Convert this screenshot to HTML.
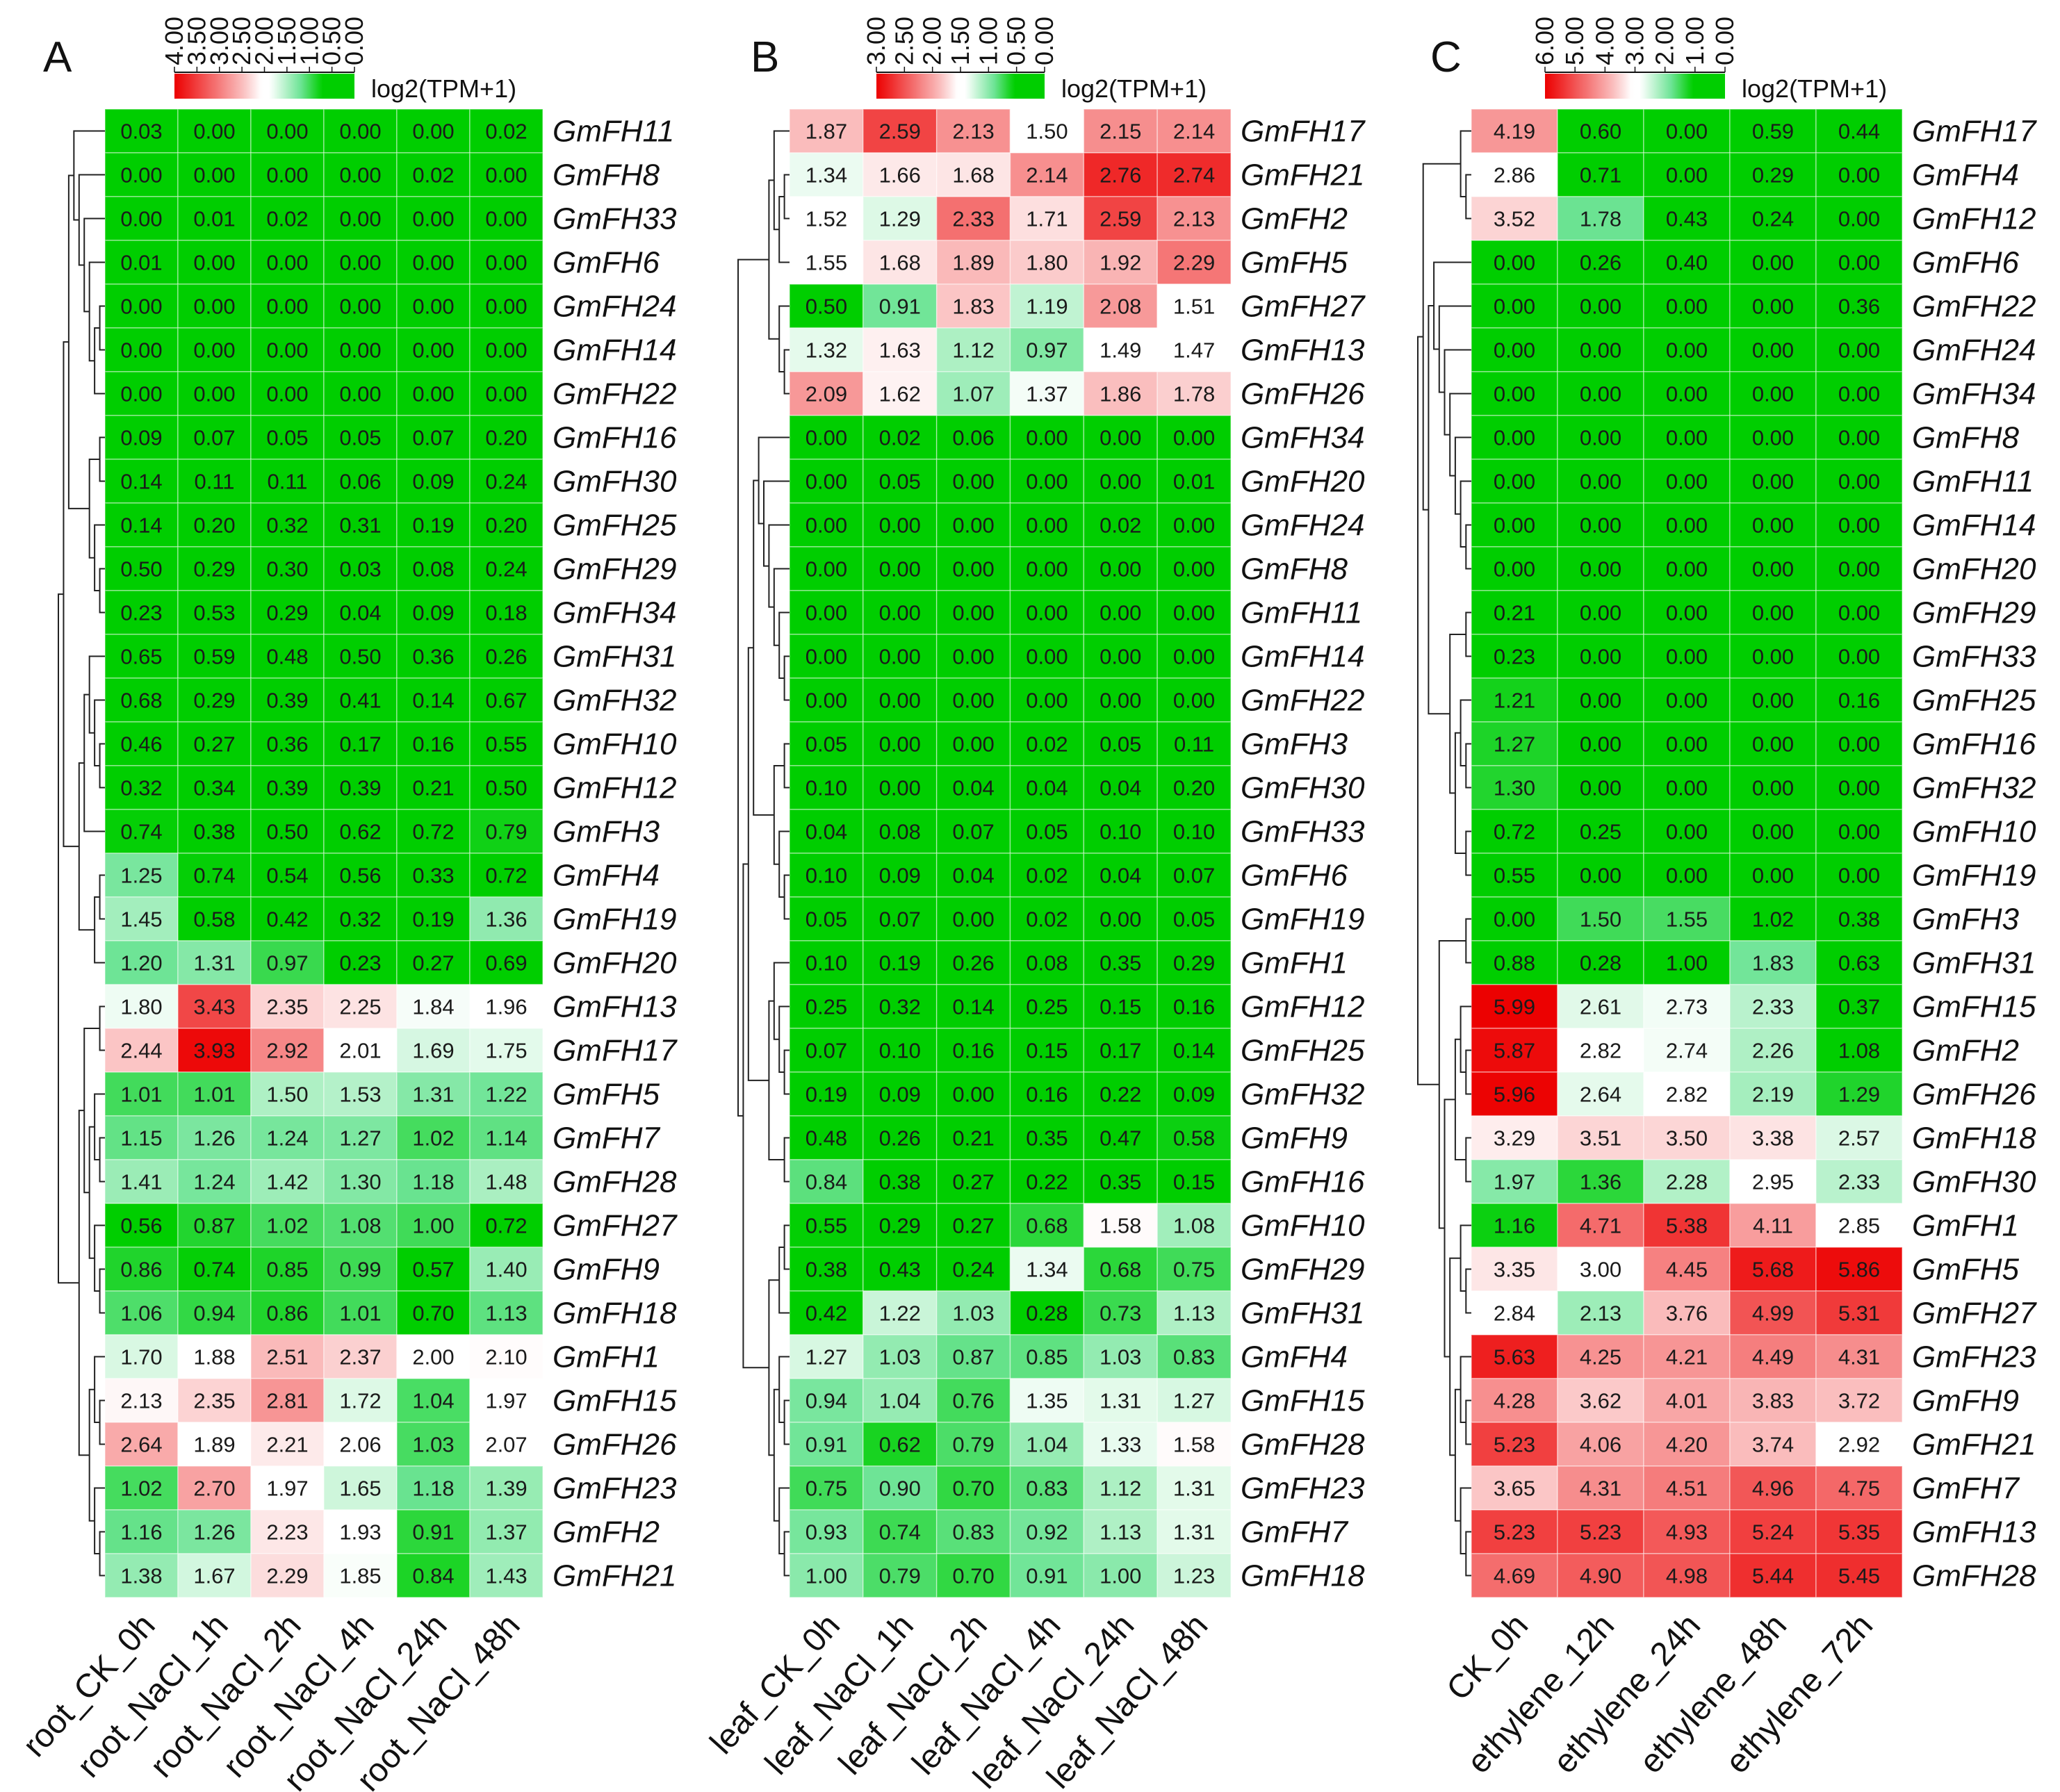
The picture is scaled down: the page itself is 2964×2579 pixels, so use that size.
<!DOCTYPE html>
<html><head><meta charset="utf-8"><style>
html,body{margin:0;padding:0;background:#fff;}
svg{display:block;font-family:"Liberation Sans",Arial,sans-serif;}
</style></head><body>
<svg id="chart" width="2964" height="2579" viewBox="0 0 2964 2579" xmlns="http://www.w3.org/2000/svg"></svg>
<script>
// ---------- DATA ----------
const genesA = ["GmFH11","GmFH8","GmFH33","GmFH6","GmFH24","GmFH14","GmFH22","GmFH16","GmFH30","GmFH25","GmFH29","GmFH34","GmFH31","GmFH32","GmFH10","GmFH12","GmFH3","GmFH4","GmFH19","GmFH20","GmFH13","GmFH17","GmFH5","GmFH7","GmFH28","GmFH27","GmFH9","GmFH18","GmFH1","GmFH15","GmFH26","GmFH23","GmFH2","GmFH21"];
const samplesA = ["root_CK_0h","root_NaCl_1h","root_NaCl_2h","root_NaCl_4h","root_NaCl_24h","root_NaCl_48h"];
const valuesA = [
[0.03,0.00,0.00,0.00,0.00,0.02],[0.00,0.00,0.00,0.00,0.02,0.00],[0.00,0.01,0.02,0.00,0.00,0.00],[0.01,0.00,0.00,0.00,0.00,0.00],
[0,0,0,0,0,0],[0,0,0,0,0,0],[0,0,0,0,0,0],
[0.09,0.07,0.05,0.05,0.07,0.20],[0.14,0.11,0.11,0.06,0.09,0.24],[0.14,0.20,0.32,0.31,0.19,0.20],[0.50,0.29,0.30,0.03,0.08,0.24],
[0.23,0.53,0.29,0.04,0.09,0.18],[0.65,0.59,0.48,0.50,0.36,0.26],[0.68,0.29,0.39,0.41,0.14,0.67],[0.46,0.27,0.36,0.17,0.16,0.55],
[0.32,0.34,0.39,0.39,0.21,0.50],[0.74,0.38,0.50,0.62,0.72,0.79],[1.25,0.74,0.54,0.56,0.33,0.72],[1.45,0.58,0.42,0.32,0.19,1.36],
[1.20,1.31,0.97,0.23,0.27,0.69],[1.80,3.43,2.35,2.25,1.84,1.96],[2.44,3.93,2.92,2.01,1.69,1.75],[1.01,1.01,1.50,1.53,1.31,1.22],
[1.15,1.26,1.24,1.27,1.02,1.14],[1.41,1.24,1.42,1.30,1.18,1.48],[0.56,0.87,1.02,1.08,1.00,0.72],[0.86,0.74,0.85,0.99,0.57,1.40],
[1.06,0.94,0.86,1.01,0.70,1.13],[1.70,1.88,2.51,2.37,2.00,2.10],[2.13,2.35,2.81,1.72,1.04,1.97],[2.64,1.89,2.21,2.06,1.03,2.07],
[1.02,2.70,1.97,1.65,1.18,1.39],[1.16,1.26,2.23,1.93,0.91,1.37],[1.38,1.67,2.29,1.85,0.84,1.43]];
const ticksA = ["4.00","3.50","3.00","2.50","2.00","1.50","1.00","0.50","0.00"];
const maxA = 4;

const genesB = ["GmFH17","GmFH21","GmFH2","GmFH5","GmFH27","GmFH13","GmFH26","GmFH34","GmFH20","GmFH24","GmFH8","GmFH11","GmFH14","GmFH22","GmFH3","GmFH30","GmFH33","GmFH6","GmFH19","GmFH1","GmFH12","GmFH25","GmFH32","GmFH9","GmFH16","GmFH10","GmFH29","GmFH31","GmFH4","GmFH15","GmFH28","GmFH23","GmFH7","GmFH18"];
const samplesB = ["leaf_CK_0h","leaf_NaCl_1h","leaf_NaCl_2h","leaf_NaCl_4h","leaf_NaCl_24h","leaf_NaCl_48h"];
const valuesB = [
[1.87,2.59,2.13,1.50,2.15,2.14],[1.34,1.66,1.68,2.14,2.76,2.74],[1.52,1.29,2.33,1.71,2.59,2.13],[1.55,1.68,1.89,1.80,1.92,2.29],
[0.50,0.91,1.83,1.19,2.08,1.51],[1.32,1.63,1.12,0.97,1.49,1.47],[2.09,1.62,1.07,1.37,1.86,1.78],[0.00,0.02,0.06,0.00,0.00,0.00],
[0.00,0.05,0.00,0.00,0.00,0.01],[0,0,0,0,0.02,0],[0,0,0,0,0,0],[0,0,0,0,0,0],[0,0,0,0,0,0],[0,0,0,0,0,0],
[0.05,0.00,0.00,0.02,0.05,0.11],[0.10,0.00,0.04,0.04,0.04,0.20],[0.04,0.08,0.07,0.05,0.10,0.10],[0.10,0.09,0.04,0.02,0.04,0.07],
[0.05,0.07,0.00,0.02,0.00,0.05],[0.10,0.19,0.26,0.08,0.35,0.29],[0.25,0.32,0.14,0.25,0.15,0.16],[0.07,0.10,0.16,0.15,0.17,0.14],
[0.19,0.09,0.00,0.16,0.22,0.09],[0.48,0.26,0.21,0.35,0.47,0.58],[0.84,0.38,0.27,0.22,0.35,0.15],[0.55,0.29,0.27,0.68,1.58,1.08],
[0.38,0.43,0.24,1.34,0.68,0.75],[0.42,1.22,1.03,0.28,0.73,1.13],[1.27,1.03,0.87,0.85,1.03,0.83],[0.94,1.04,0.76,1.35,1.31,1.27],
[0.91,0.62,0.79,1.04,1.33,1.58],[0.75,0.90,0.70,0.83,1.12,1.31],[0.93,0.74,0.83,0.92,1.13,1.31],[1.00,0.79,0.70,0.91,1.00,1.23]];
const ticksB = ["3.00","2.50","2.00","1.50","1.00","0.50","0.00"];
const maxB = 3;

const genesC = ["GmFH17","GmFH4","GmFH12","GmFH6","GmFH22","GmFH24","GmFH34","GmFH8","GmFH11","GmFH14","GmFH20","GmFH29","GmFH33","GmFH25","GmFH16","GmFH32","GmFH10","GmFH19","GmFH3","GmFH31","GmFH15","GmFH2","GmFH26","GmFH18","GmFH30","GmFH1","GmFH5","GmFH27","GmFH23","GmFH9","GmFH21","GmFH7","GmFH13","GmFH28"];
const samplesC = ["CK_0h","ethylene_12h","ethylene_24h","ethylene_48h","ethylene_72h"];
const valuesC = [
[4.19,0.60,0.00,0.59,0.44],[2.86,0.71,0.00,0.29,0.00],[3.52,1.78,0.43,0.24,0.00],[0.00,0.26,0.40,0.00,0.00],
[0,0,0,0,0.36],[0,0,0,0,0],[0,0,0,0,0],[0,0,0,0,0],[0,0,0,0,0],[0,0,0,0,0],[0,0,0,0,0],
[0.21,0,0,0,0],[0.23,0,0,0,0],[1.21,0,0,0,0.16],[1.27,0,0,0,0],[1.30,0,0,0,0],[0.72,0.25,0,0,0],[0.55,0,0,0,0],
[0.00,1.50,1.55,1.02,0.38],[0.88,0.28,1.00,1.83,0.63],[5.99,2.61,2.73,2.33,0.37],[5.87,2.82,2.74,2.26,1.08],
[5.96,2.64,2.82,2.19,1.29],[3.29,3.51,3.50,3.38,2.57],[1.97,1.36,2.28,2.95,2.33],[1.16,4.71,5.38,4.11,2.85],
[3.35,3.00,4.45,5.68,5.86],[2.84,2.13,3.76,4.99,5.31],[5.63,4.25,4.21,4.49,4.31],[4.28,3.62,4.01,3.83,3.72],
[5.23,4.06,4.20,3.74,2.92],[3.65,4.31,4.51,4.96,4.75],[5.23,5.23,4.93,5.24,5.35],[4.69,4.90,4.98,5.44,5.45]];
const ticksC = ["6.00","5.00","4.00","3.00","2.00","1.00","0.00"];
const maxC = 6;

const treeA = [[[[0,[1,[2,[3,[[4,5],6]]]]],[[7,8],[9,[10,11]]]],[[[12,[13,[14,15]]],16],[[17,18],19]]],[[[20,21],[[22,[23,24]],[25,[26,27]]]],[[28,[29,30]],[31,[32,33]]]]];
const treeB = [[[0,[[1,2],3]],[4,[5,6]]],[[[[7,[8,[9,[10,[11,[12,13]]]]]],[[14,15],[16,[17,18]]]],[[19,[20,[21,22]]],[23,24]]],[[[25,26],27],[[28,[29,30]],[31,[32,33]]]]]];
const treeC = [[[0,[1,2]],[[3,[4,[5,[6,[7,[8,[9,10]]]]]]],[[11,12],[[13,[14,15]],[16,17]]]]],[[18,19],[[[20,[21,22]],[23,24]],[[25,[26,27]],[[28,[29,30]],[31,[32,33]]]]]]];

// ---------- DRAW ----------
const NS="http://www.w3.org/2000/svg";
const svg=document.getElementById('chart');
function mk(tag,attrs,parent){const e=document.createElementNS(NS,tag);for(const k in attrs)e.setAttribute(k,attrs[k]);(parent||svg).appendChild(e);return e;}
const TOP=157, ROWH=63;
function lerp(a,b,t){return [0,1,2].map(i=>Math.round(a[i]+(b[i]-a[i])*t));}
function color(v,max){
  const t=Math.max(0,Math.min(1,v/max));
  const G=[0,206,0],M=[110,228,150],W=[255,255,255],P=[250,190,190],R=[236,0,0];
  let c;
  if(t<=0.18)c=G; else if(t<0.3)c=lerp(G,M,(t-0.18)/0.12); else if(t<0.47)c=lerp(M,W,(t-0.3)/0.17);
  else if(t<0.52)c=W; else if(t<0.62)c=lerp(W,P,(t-0.52)/0.10); else c=lerp(P,R,(t-0.62)/0.38);
  return `rgb(${c[0]},${c[1]},${c[2]})`;
}
function yOf(r){return TOP+r*ROWH;}

function panel(id,letter,letterX,genes,samples,values,ticks,max,tree,hx0,hx1,cbX0,cbX1,treeLeft){
  const g=mk('g',{});
  
  
  const ncol=samples.length, cw=(hx1-hx0)/ncol;
  const L=mk('text',{x:letterX,y:103,'font-size':62,fill:'#111'},g);L.textContent=letter;
  
  
  const gid='grad'+id;
  const defs=mk('defs',{},g);const lg=mk('linearGradient',{id:gid,x1:0,x2:1,y1:0,y2:0},defs);
  for(let i=0;i<=40;i++){const v=max*(1-i/40);mk('stop',{offset:(i/40),'stop-color':color(v,max)},lg);}
  const cb=mk('rect',{x:cbX0,y:106,width:cbX1-cbX0,height:36,fill:`url(#${gid})`},g);
  
  
  mk('line',{x1:cbX0,y1:104,x2:cbX1,y2:104,stroke:'#111','stroke-width':2},g);
  ticks.forEach((t,i)=>{
    const x=cbX0+(cbX1-cbX0)*i/(ticks.length-1);
    mk('line',{x1:x,y1:104,x2:x,y2:96,stroke:'#111','stroke-width':1.5},g);
    const tx=mk('text',{x:0,y:0,'font-size':36,fill:'#111','text-anchor':'start',transform:`translate(${x+12},${94}) rotate(-90)`},g);
    tx.textContent=t;
    
    
  });
  const lt=mk('text',{x:cbX1+24,y:140,'font-size':36,fill:'#111'},g);lt.textContent='log2(TPM+1)';
  
  
  values.forEach((row,r)=>{
    row.forEach((v,c)=>{
      const rc=mk('rect',{x:hx0+c*cw,y:yOf(r),width:cw,height:ROWH,fill:color(v,max),stroke:'rgba(255,255,255,0.45)','stroke-width':1.5},g);
      
      
      const tx=mk('text',{x:hx0+c*cw+cw/2,y:yOf(r)+ROWH/2+11,'font-size':31,'text-anchor':'middle',fill:'#1a1a1a'},g);
      tx.textContent=v.toFixed(2);
      
      
    });
    const gl=mk('text',{x:hx1+14,y:yOf(r)+ROWH/2+15,'font-size':44,'font-style':'italic',fill:'#111'},g);
    gl.textContent=genes[r];
    
    
  });
  const yb=yOf(genes.length);
  samples.forEach((s,c)=>{
    const cx=hx0+c*cw+cw/2+22;
    const tx=mk('text',{x:0,y:0,'font-size':48,'text-anchor':'end',fill:'#111',transform:`translate(${cx},${yb+42}) rotate(-48)`},g);
    tx.textContent=s;
    
    
  });
  function h(n){return Array.isArray(n)?1+Math.max(h(n[0]),h(n[1])):0;}
  const H=h(tree), unit=(hx0-treeLeft)/H;
  function draw(n){
    if(!Array.isArray(n))return {x:hx0,y:yOf(n)+ROWH/2};
    const a=draw(n[0]),b=draw(n[1]);
    const x=hx0-h(n)*unit;
    mk('path',{d:`M${a.x},${a.y}H${x}V${b.y}H${b.x}`,fill:'none',stroke:'#222','stroke-width':2},g);
    return {x:x,y:(a.y+b.y)/2};
  }
  draw(tree);
}
panel('a','A',62,genesA,samplesA,valuesA,ticksA,maxA,treeA,151,781,251,510,84);
panel('b','B',1080,genesB,samplesB,valuesB,ticksB,maxB,treeB,1136,1771,1261,1503,1062);
panel('c','C',2058,genesC,samplesC,valuesC,ticksC,maxC,treeC,2117,2737,2223,2482,2040);
</script>
</body></html>
